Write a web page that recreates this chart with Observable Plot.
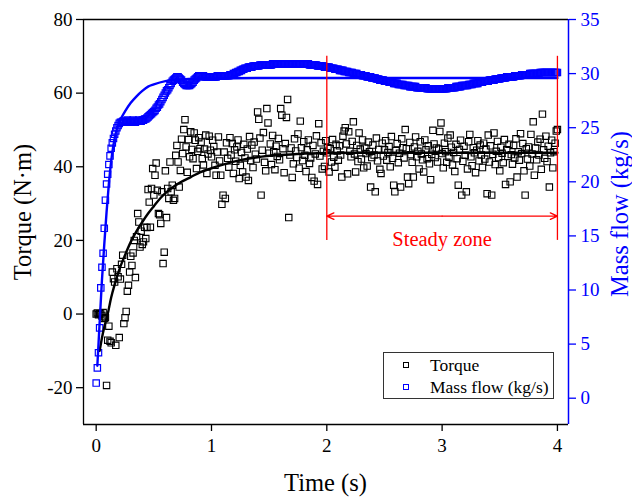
<!DOCTYPE html>
<html><head><meta charset="utf-8">
<script src="https://cdn.jsdelivr.net/npm/d3@7"></script>
<script src="https://cdn.jsdelivr.net/npm/@observablehq/plot@0.6"></script>
<style>
body{margin:0;background:#fff}
#chart{width:632px;height:498px}
</style>
</head><body><div id="chart"></div>
<script>
// ---------- data ----------
const sampleStep = 0.01; // s between recorded samples
const torque = [
0,0.3,-0.2,0.1,0,-0.5,0.4,-1.2,-1,-19.4,
-7.1,-3.3,-7.4,-7.8,11.4,9.6,8.7,-8.5,12.3,10.1,
-6.4,9.5,13.5,16,-2.6,-1,0.7,6.2,7.8,11.4,
15.7,13.2,16.6,20,9.9,21,27.3,25,18.2,22.5,
18.9,19.6,23.6,20.5,23.5,33.8,30.4,23.6,34.1,39.5,
32.3,37.7,41,33.6,27.3,27,24.6,33.2,13.7,16.8,
38.9,26.2,34.1,31.4,41.3,33.2,35,30.9,31.4,43.1,
45.8,41.3,34.5,39,47.5,43.6,50.1,52.8,45.4,38.5,
47.4,42.7,49.5,44.7,42.2,49.2,47.2,39.5,44.2,47.9,
44.9,46.7,42.2,40.5,44.8,48.6,38.2,43.5,48.3,44.5,
42.7,47.2,45.5,40.4,37.7,44,48.1,41.6,37.7,29.8,
32.3,44,31.4,46.5,42.3,39.9,47.9,43.2,46.3,38.2,
44.6,41.5,45.4,47.3,36.8,40.4,43.9,38.6,46.1,42.4,
37.2,44.8,36.3,48.2,41.7,45.9,39.8,46.7,43.4,42.1,
54.9,52.9,47.8,32.3,44.5,49.3,41.2,38.9,55.8,51.9,
43.7,46.2,40.6,48.5,44.1,39.2,45.6,42.8,47.7,41.9,
55.8,54,44.9,38.4,46.3,53.4,58.3,26.2,43.2,45.1,
37.1,40.8,47.6,44.3,42.5,48.9,39.6,52.4,45.2,41.7,
46.8,43.1,38.7,44.6,47.3,40.9,42.4,37.1,45.8,36.1,
43.5,48.4,35.2,51.7,42.9,46.5,39.4,44.2,40.1,47.1,
43.8,45.2,38.6,44.9,41.3,47.4,42.6,39.9,46.1,44.3,
41.8,45.7,43.2,37.2,48.3,49.7,50.6,46.2,38.1,49.5,
44.2,42.7,46.9,52.2,43.5,38.6,45.8,41.4,49.2,44.8,
42.1,47.3,39.7,45.1,43.6,40.2,46.7,44.1,34.5,42.5,
45.9,43.2,33.2,47.8,41.6,44.7,39.3,38.2,46.4,42.9,
44.6,47.1,41.8,43.9,45.5,40,48.2,42.3,35,33.2,
44.4,46.3,41.1,43.7,34.5,47.6,45.2,42.4,50.1,44.9,
37.2,35.4,46.6,43.3,41.2,37.2,45.4,48.1,42.7,44.2,
39.4,46.8,43.5,41.9,38.6,47.3,44.6,42.2,45.7,40.8,
36.5,43.4,49.9,46.2,42.5,45.1,41.3,44.8,49.6,51.9,
43.6,39.7,46.4,44.1,41.2,47.8,42.6,48.6,45.3,40.5,
43.9,38.7,46.1,42.2,35,44.7,47.2,32.3,41.5,45.6,
43.1,33.2,39.4,46.8,48.8,42.7,40.3,45.2,43.8,38.4,
44.5,47.1,41.6,45.9,43.2,39.8,46.4,42.1,44.8,32.7,
48.6,41.3,45.7,32.3,43.4,49.2,40.6,44.2,46.9,42.5,
38.9,45.3,43.7,41.1,47.4,35.2,44.6,42.8,46.1,35.9,
43.3,40.7,45.8,42.4,47.6,37.2,44.1,41.8,49,43.6,
46.3,38.9,32.3,44.9,42.1,45.4,40.2,48.8,43.5,52.2,
37.7,45.1,41.9,46.7,43.2,47.5,39.3,54.3,44.6,42.3,
48.3,41.4,45.6,34.5,43.8,47.2,39.7,44.1,46.4,49.7,
50.1];
const massFlow = [
1.4,2.8,4.2,6.5,10.2,12.1,13.4,15.7,18.3,19.8,
20.7,21.6,22.4,23.1,23.6,24.0,24.4,24.7,25.0,25.2,
25.4,25.5,25.5,25.6,25.6,25.5,25.6,25.7,25.6,25.5,
25.6,25.6,25.7,25.6,25.5,25.6,25.6,25.7,25.6,25.6,
25.7,25.7,25.8,25.8,25.9,26.0,26.1,26.2,26.3,26.4,
26.5,26.6,26.8,26.9,27.1,27.2,27.4,27.6,27.8,28.0,
28.2,28.4,28.5,28.7,28.9,29.1,29.3,29.4,29.5,29.6,
29.7,29.7,29.6,29.5,29.4,29.2,29.1,29.0,28.9,28.9,
28.9,28.9,29.0,29.1,29.2,29.4,29.5,29.6,29.7,29.8,
29.8,29.8,29.8,29.8,29.7,29.7,29.7,29.7,29.7,29.7,
29.7,29.7,29.7,29.7,29.7,29.8,29.8,29.8,29.8,29.8,
29.8,29.8,29.8,29.8,29.8,29.8,29.9,29.9,29.9,30.0,
30.0,30.1,30.1,30.2,30.2,30.3,30.3,30.4,30.4,30.5,
30.5,30.5,30.6,30.6,30.6,30.6,30.7,30.7,30.7,30.7,
30.7,30.7,30.8,30.8,30.8,30.8,30.8,30.8,30.8,30.8,
30.8,30.8,30.8,30.9,30.9,30.9,30.9,30.9,30.9,30.9,
30.9,30.9,30.9,30.9,30.9,30.9,30.9,30.9,30.9,30.9,
30.9,30.9,30.9,30.9,30.9,30.9,30.9,30.9,30.9,30.9,
30.9,30.9,30.9,30.9,30.9,30.8,30.8,30.8,30.8,30.8,
30.8,30.8,30.7,30.7,30.7,30.7,30.7,30.7,30.6,30.6,
30.6,30.6,30.6,30.5,30.5,30.5,30.5,30.4,30.4,30.4,
30.4,30.3,30.3,30.3,30.3,30.2,30.2,30.2,30.2,30.1,
30.1,30.1,30.1,30.0,30.0,30.0,30.0,29.9,29.9,29.9,
29.9,29.8,29.8,29.8,29.8,29.7,29.7,29.7,29.7,29.6,
29.6,29.6,29.6,29.5,29.5,29.5,29.4,29.4,29.4,29.4,
29.3,29.3,29.3,29.3,29.2,29.2,29.2,29.2,29.1,29.1,
29.1,29.1,29.0,29.0,29.0,29.0,29.0,28.9,28.9,28.9,
28.9,28.9,28.8,28.8,28.8,28.8,28.8,28.8,28.7,28.7,
28.7,28.7,28.7,28.7,28.7,28.7,28.7,28.6,28.6,28.6,
28.6,28.6,28.6,28.6,28.6,28.6,28.6,28.6,28.6,28.6,
28.6,28.6,28.6,28.6,28.6,28.7,28.7,28.7,28.7,28.7,
28.7,28.7,28.8,28.8,28.8,28.8,28.8,28.9,28.9,28.9,
28.9,28.9,28.9,29.0,29.0,29.0,29.0,29.1,29.1,29.1,
29.1,29.1,29.2,29.2,29.2,29.2,29.3,29.3,29.3,29.3,
29.3,29.4,29.4,29.4,29.4,29.4,29.5,29.5,29.5,29.5,
29.5,29.6,29.6,29.6,29.6,29.6,29.7,29.7,29.7,29.7,
29.7,29.7,29.7,29.8,29.8,29.8,29.8,29.8,29.8,29.9,
29.9,29.9,29.9,29.9,29.9,29.9,30.0,30.0,30.0,30.0,
30.0,30.0,30.0,30.0,30.0,30.1,30.1,30.1,30.1,30.1,
30.1,30.1,30.1,30.1,30.1,30.1,30.1,30.1,30.1,30.1,
30.1];
// fitted curves
const torqueFitTime  = [0.03,0.05,0.07,0.10,0.13,0.16,0.20,0.25,0.30,0.35,0.40,0.45,0.50,0.56,0.62,0.68,0.75,0.82,0.90,1.00,1.10,1.25,1.40,1.60,1.80,2.00,2.50,3.00,4.00];
const torqueFitValue = [-10,-6.5,-3.6,0,4.5,8,12,16,19.6,22.5,25,27.3,29.3,31.6,33.4,34.8,36.1,37.2,38.5,39.6,40.6,41.8,42.6,43.2,43.55,43.75,43.8,43.8,43.8];
const flowFitTime  = [0.01,0.03,0.05,0.07,0.09,0.11,0.13,0.15,0.17,0.20,0.25,0.30,0.35,0.40,0.45,0.50,0.60,0.70,0.80,1.00,1.50,2.00,3.00,4.00];
const flowFitValue = [3.0,7.0,10.9,14.2,17.2,19.8,21.9,23.4,24.5,25.5,26.5,27.3,27.9,28.4,28.8,29.0,29.3,29.45,29.5,29.55,29.6,29.6,29.6,29.6];

const xTicks = [0,1,2,3,4];
const torqueTicks = [-20,0,20,40,60,80];
const flowTicks = [0,5,10,15,20,25,30,35];
const steadyBounds = [2,4];
const steadyLabel = "Steady zone";
const seriesNames = ["Torque","Mass flow (kg/s)"];

// ---------- scales ----------
const xDomain = [-0.11, 4.096];
const torqueDomain = [-30, 80];
const flowDomain = [-2.43, 35];         // right axis, aligned with torqueDomain
const k = (torqueDomain[1]-torqueDomain[0])/(flowDomain[1]-flowDomain[0]);
const flowToT = f => torqueDomain[0] + (f - flowDomain[0]) * k;
const tToFlow = t => flowDomain[0] + (t - torqueDomain[0]) / k;

const torqueData = torque.map((v,i)=>({t: +(i*sampleStep).toFixed(2), v}));
const flowData = massFlow.map((v,i)=>({t: +(i*sampleStep).toFixed(2), v: flowToT(v)}));
const torqueFit = torqueFitTime.map((t,i)=>({t, v: torqueFitValue[i]}));
const flowFit = flowFitTime.map((t,i)=>({t, v: flowToT(flowFitValue[i])}));

const FONT = "'Liberation Serif','Times New Roman',serif";
const BLUE = "#0000ff", RED = "#ff0000";

const W = 632, H = 498, ML = 83, MR = 64, MT = 19, MB = 74;

const chart = Plot.plot({
  width: W, height: H,
  marginLeft: ML, marginRight: MR, marginTop: MT, marginBottom: MB,
  style: {fontFamily: FONT, fontSize: "19px", background: "white", color: "black"},
  x: {domain: xDomain},
  y: {domain: torqueDomain},
  marks: [
    Plot.dot(torqueData, {x: "t", y: "v", symbol: "square", r: 3.6, fill: "none", stroke: "black", strokeWidth: 1.1}),
    Plot.dot(flowData, {x: "t", y: "v", symbol: "square", r: 3.6, fill: "none", stroke: BLUE, strokeWidth: 1.2}),
    Plot.line(torqueFit, {x: "t", y: "v", stroke: "black", strokeWidth: 2.4, curve: "monotone-x"}),
    Plot.line(flowFit, {x: "t", y: "v", stroke: BLUE, strokeWidth: 2.4, curve: "monotone-x"}),
    // steady-zone annotation
    Plot.ruleX(steadyBounds, {y1: 20, y2: 70, stroke: RED, strokeWidth: 1.3}),
    Plot.arrow([{a: 3, b: steadyBounds[0]}, {a: 3, b: steadyBounds[1]}], {x1: "a", x2: "b", y1: 26.6, y2: 26.6, stroke: RED, strokeWidth: 1.3, headLength: 9, headAngle: 50}),
    Plot.text([steadyLabel], {x: 3, y: 18.6, lineAnchor: "bottom", fill: RED, fontSize: 20.5}),
    // frame
    Plot.ruleY([torqueDomain[1]], {stroke: "black", strokeWidth: 1.3}),
    Plot.ruleY([torqueDomain[0]], {stroke: "black", strokeWidth: 1.3}),
    Plot.ruleX([xDomain[0]], {stroke: "black", strokeWidth: 1.3}),
    Plot.ruleX([xDomain[1]], {stroke: BLUE, strokeWidth: 1.5}),
    // axes
    Plot.axisX(xTicks, {anchor: "bottom", tickSize: 7, tickPadding: 7, strokeWidth: 1.3, label: null, fontSize: 19, tickFormat: d => String(d)}),
    Plot.axisY(torqueTicks, {anchor: "left", tickSize: 7, tickPadding: 4, strokeWidth: 1.3, label: null, fontSize: 19, tickFormat: d => String(d)}),
    Plot.axisY(flowTicks.map(flowToT), {anchor: "right", tickSize: 7, tickPadding: 5, strokeWidth: 1.3, stroke: BLUE, fill: BLUE, label: null, fontSize: 19,
      tickFormat: d => String(Math.round(tToFlow(d)))})
  ]
});

const svg = d3.select(chart);
// axis titles
svg.append("text").attr("transform","translate(31,212) rotate(-90)").attr("text-anchor","middle")
  .style("font-family",FONT).style("font-size","24.5px").attr("fill","black").text("Torque (N\u00b7m)");
svg.append("text").attr("transform","translate(628,214) rotate(-90)").attr("text-anchor","middle")
  .style("font-family",FONT).style("font-size","24.5px").attr("fill",BLUE).text("Mass flow (kg/s)");
svg.append("text").attr("x",(ML + W - MR)/2).attr("y",491).attr("text-anchor","middle")
  .style("font-family",FONT).style("font-size","24.5px").attr("fill","black").text("Time (s)");
// legend
const lg = svg.append("g");
lg.append("rect").attr("x",383.5).attr("y",352.5).attr("width",170).attr("height",46)
  .attr("fill","white").attr("stroke","#333").attr("stroke-width",1);
[["black",365],[BLUE,387]].forEach(([c,y],i)=>{
  lg.append("rect").attr("x",403.5).attr("y",y-2.5).attr("width",5).attr("height",5)
    .attr("fill","none").attr("stroke",c).attr("stroke-width",1);
  lg.append("text").attr("x",430).attr("y",y+6).attr("text-anchor","start").style("font-family",FONT).style("font-size","17.5px")
    .attr("fill","black").text(seriesNames[i]);
});
document.getElementById("chart").appendChild(chart);
</script>
</body></html>
